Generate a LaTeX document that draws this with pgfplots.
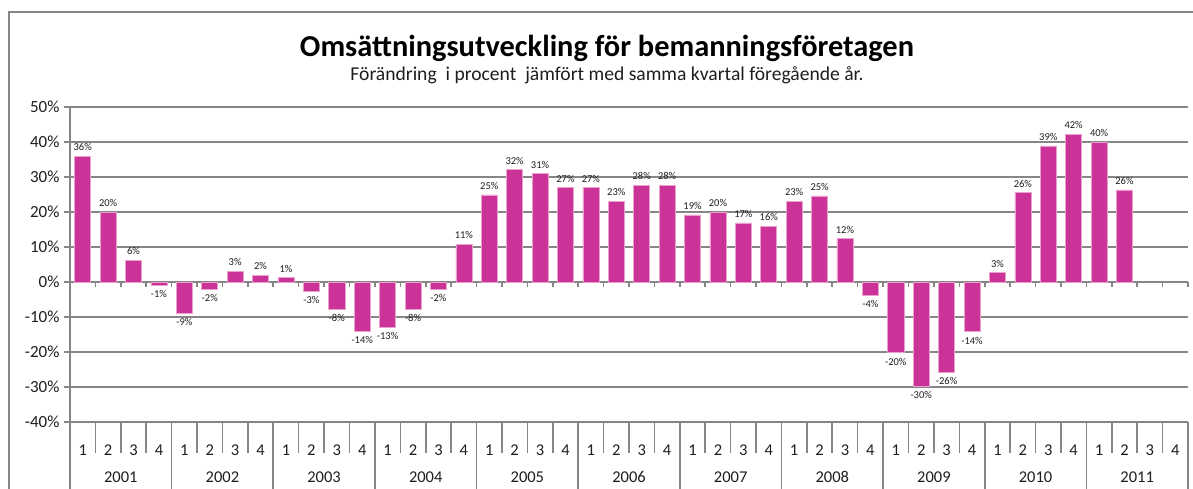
\documentclass[border=0pt]{standalone}
\usepackage{fontspec}
\setmainfont{Carlito}
\usepackage{pgfplots}
\usepackage{pgfplotstable}
\pgfplotsset{compat=1.18}
\definecolor{barc}{RGB}{204,51,153}
\definecolor{baredge}{RGB}{236,160,205}
\definecolor{gridc}{RGB}{134,134,134}
\definecolor{txtc}{RGB}{30,30,30}
\pgfplotstableread{
x y
0.5 36.0
1.5 20.0
2.5 6.2
3.5 -0.95
4.5 -8.8
5.5 -2.1
6.5 3.05
7.5 2.0
8.5 1.25
9.5 -2.65
10.5 -7.8
11.5 -14.0
12.5 -12.8
13.5 -7.8
14.5 -2.1
15.5 10.8
16.5 24.9
17.5 32.1
18.5 31.0
19.5 27.0
20.5 27.0
21.5 23.1
22.5 27.7
23.5 27.7
24.5 19.2
25.5 19.9
26.5 16.9
27.5 15.9
28.5 23.1
29.5 24.6
30.5 12.4
31.5 -3.8
32.5 -20.2
33.5 -29.7
34.5 -25.7
35.5 -14.2
36.5 2.7
37.5 25.6
38.5 38.9
39.5 42.2
40.5 40.0
41.5 26.3
}\datatable
\begin{document}
\begin{tikzpicture}
\useasboundingbox (-70pt,-66pt) rectangle (1123pt,422pt);
% frame
\draw[gridc, line width=1.5pt] (-61pt,-80pt) -- (-61pt,410pt) -- (1160pt,410pt);
\node[anchor=base, font=\fontsize{30.4}{33}\selectfont\bfseries, text=black] at (537pt,365pt) {Omsättningsutveckling för bemanningsföretagen};
\node[anchor=base, font=\fontsize{19.6}{21}\selectfont, text=txtc] at (537pt,341pt) {Förändring \ i procent \ jämfört med samma kvartal föregående år.};
\begin{axis}[
  at={(0pt,0pt)}, anchor=south west,
  scale only axis, width=1118pt, height=315pt,
  xmin=0, xmax=44, ymin=-40, ymax=50,
  clip=false,
  axis line style={draw=none},
  ytick={-40,-30,...,50},
  ymajorgrids, grid style={gridc, line width=1.6pt},
  ytick pos=left, tick align=outside, major tick length=6pt,
  ytick style={gridc, line width=1.6pt},
  /pgf/number format/assume math mode=true,
  yticklabel={\pgfmathprintnumber{\tick}\%},
  yticklabel style={font=\fontsize{17}{19}\selectfont, text=txtc, xshift=-1pt},
  xtick={0.5,1.5,...,43.5},
  xticklabels={1,2,3,4,1,2,3,4,1,2,3,4,1,2,3,4,1,2,3,4,1,2,3,4,1,2,3,4,1,2,3,4,1,2,3,4,1,2,3,4,1,2,3,4},
  xtick style={draw=none},
  xticklabel style={font=\fontsize{16.5}{18}\selectfont, text=txtc, anchor=center, yshift=-22pt},
]
\addplot[ybar, bar width=0.63, fill=barc, draw=baredge, line width=0.6pt,
  point meta=y,
  nodes near coords={\pgfmathprintnumber[fixed,precision=0]{\pgfplotspointmeta}\%},
  nodes near coords align=vertical,
  every node near coord/.append style={font=\fontsize{10.5}{11}\selectfont, text=txtc, inner sep=5pt},
] table[x=x,y=y] {\datatable};
% zero line ticks
\pgfplotsinvokeforeach{1,...,44}{\draw[gridc, line width=1.6pt] (axis cs:#1,0) -- ++(0pt,-5pt);}
% left axis line
\draw[gridc, line width=1.6pt] (axis cs:0,50) -- (axis cs:0,-40) -- ++(0pt,-70pt);
% quarter separators
\pgfplotsinvokeforeach{1,2,3,5,6,7,9,10,11,13,14,15,17,18,19,21,22,23,25,26,27,29,30,31,33,34,35,37,38,39,41,42,43}{\draw[gridc, line width=1.6pt] (axis cs:#1,-40) -- ++(0pt,-31pt);}
% year separators
\pgfplotsinvokeforeach{4,8,...,44}{\draw[gridc, line width=1.6pt] (axis cs:#1,-40) -- ++(0pt,-70pt);}
% year labels
\tikzset{yl/.style={font=\fontsize{16.5}{18}\selectfont, text=txtc, yshift=-54.7pt}}
\node[yl] at (axis cs:2,-40) {2001};
\node[yl] at (axis cs:6,-40) {2002};
\node[yl] at (axis cs:10,-40) {2003};
\node[yl] at (axis cs:14,-40) {2004};
\node[yl] at (axis cs:18,-40) {2005};
\node[yl] at (axis cs:22,-40) {2006};
\node[yl] at (axis cs:26,-40) {2007};
\node[yl] at (axis cs:30,-40) {2008};
\node[yl] at (axis cs:34,-40) {2009};
\node[yl] at (axis cs:38,-40) {2010};
\node[yl] at (axis cs:42,-40) {2011};
\end{axis}
\end{tikzpicture}
\end{document}
